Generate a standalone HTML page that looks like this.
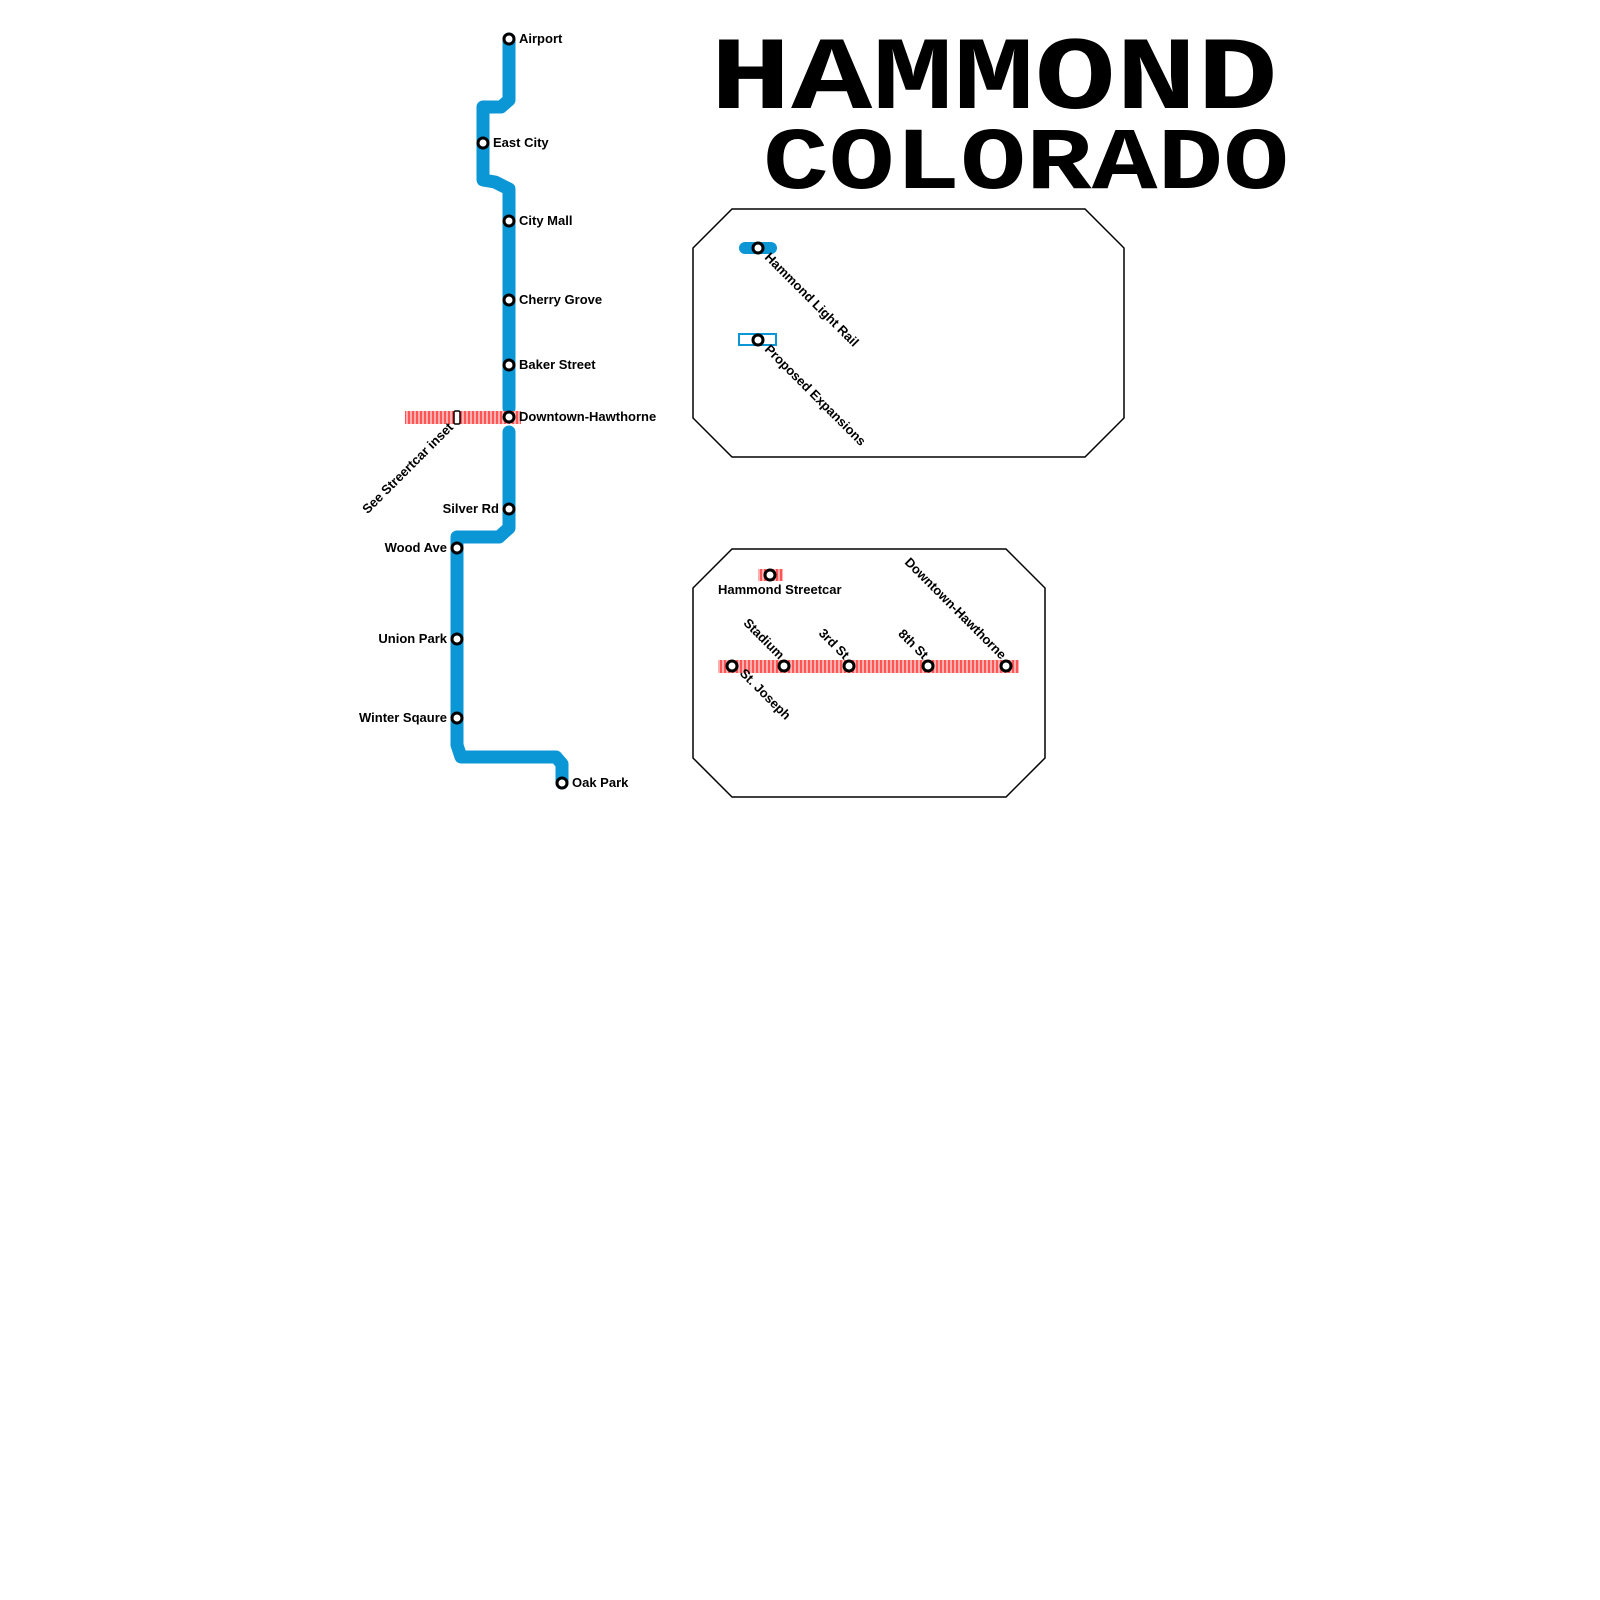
<!DOCTYPE html>
<html><head><meta charset="utf-8"><style>
html,body{margin:0;padding:0;background:#fff;}
svg{display:block}
text{font-family:"Liberation Sans",sans-serif;font-weight:bold;font-size:13px;fill:#000}
.t{font-weight:bold;fill:#000}
</style></head><body>
<svg width="1600" height="1600" viewBox="0 0 1600 1600" xmlns="http://www.w3.org/2000/svg">
<defs>
<pattern id="st" width="4" height="10" patternUnits="userSpaceOnUse">
<rect width="4" height="10" fill="#ffb0b0"/><rect width="2" height="10" fill="#ff5555"/>
</pattern>
</defs>
<!-- title -->
<text class="t" x="710" y="108" style="font-size:104px;font-family:'Liberation Mono',monospace" textLength="568" lengthAdjust="spacingAndGlyphs">HAMMOND</text>
<text class="t" x="763" y="188" style="font-size:88px;font-family:'Liberation Mono',monospace" textLength="526" lengthAdjust="spacingAndGlyphs">COLORADO</text>

<!-- legend boxes -->
<polygon points="732,209 1085,209 1124,248 1124,418 1085,457 732,457 693,418 693,248" fill="none" stroke="#000" stroke-width="1.5"/>
<polygon points="732,549 1006,549 1045,588 1045,758 1006,797 732,797 693,758 693,588" fill="none" stroke="#000" stroke-width="1.5"/>

<!-- main line -->
<g fill="none" stroke="#0b96d5" stroke-width="13" stroke-linejoin="round" stroke-linecap="round">
<polyline points="509,39 509,100 501,107 483,107 483,180 495,182 509,189 509,408"/>
<polyline points="509,432 509,528 499,537 457,537 457,745 461,757 556,757 562,764 562,783"/>
</g>
<!-- streetcar stub -->
<rect x="405" y="411" width="116" height="13" fill="url(#st)"/>
<rect x="454" y="411" width="6" height="13" rx="1.5" fill="#fff" stroke="#000" stroke-width="1.5"/>

<g fill="#fff" stroke="#000" stroke-width="3">
<circle cx="509" cy="39" r="5"/><circle cx="483" cy="143" r="5"/><circle cx="509" cy="221" r="5"/>
<circle cx="509" cy="300" r="5"/><circle cx="509" cy="365" r="5"/><circle cx="509" cy="417" r="5"/>
<circle cx="509" cy="509" r="5"/><circle cx="457" cy="548" r="5"/><circle cx="457" cy="639" r="5"/>
<circle cx="457" cy="718" r="5"/><circle cx="562" cy="783" r="5"/>
</g>
<text x="519" y="43">Airport</text>
<text x="493" y="147">East City</text>
<text x="519" y="225">City Mall</text>
<text x="519" y="304">Cherry Grove</text>
<text x="519" y="369">Baker Street</text>
<text x="519" y="421">Downtown-Hawthorne</text>
<text x="499" y="513" text-anchor="end">Silver Rd</text>
<text x="447" y="552" text-anchor="end">Wood Ave</text>
<text x="447" y="643" text-anchor="end">Union Park</text>
<text x="447" y="722" text-anchor="end">Winter Sqaure</text>
<text x="572" y="787">Oak Park</text>
<text x="454" y="428" text-anchor="end" transform="rotate(-45 454 428)">See Streertcar inset</text>

<!-- legend 1 -->
<line x1="745" y1="248" x2="771" y2="248" stroke="#0b96d5" stroke-width="12" stroke-linecap="round"/>
<rect x="739" y="334" width="37" height="11" fill="none" stroke="#0b96d5" stroke-width="2"/>
<g fill="#fff" stroke="#000" stroke-width="3">
<circle cx="758" cy="248" r="5"/><circle cx="758" cy="340" r="5"/>
</g>
<text x="764" y="258" transform="rotate(45 764 258)">Hammond Light Rail</text>
<text x="764" y="350" transform="rotate(45 764 350)">Proposed Expansions</text>

<!-- legend 2 -->
<rect x="758" y="569" width="25" height="12" fill="url(#st)"/>
<rect x="718" y="660" width="301" height="13" fill="url(#st)"/>
<g fill="#fff" stroke="#000" stroke-width="3">
<circle cx="770" cy="575" r="5"/>
<circle cx="732" cy="666" r="5"/><circle cx="784" cy="666" r="5"/><circle cx="849" cy="666" r="5"/>
<circle cx="928" cy="666" r="5"/><circle cx="1006" cy="666" r="5"/>
</g>
<text x="718" y="594">Hammond Streetcar</text>
<text x="779" y="660" text-anchor="end" transform="rotate(45 779 660)">Stadium</text>
<text x="844" y="660" text-anchor="end" transform="rotate(45 844 660)">3rd St</text>
<text x="923" y="660" text-anchor="end" transform="rotate(45 923 660)">8th St</text>
<text x="1001" y="660" text-anchor="end" transform="rotate(45 1001 660)">Downtown-Hawthorne</text>
<text x="739" y="674" transform="rotate(45 739 674)">St. Joseph</text>
</svg>
</body></html>
